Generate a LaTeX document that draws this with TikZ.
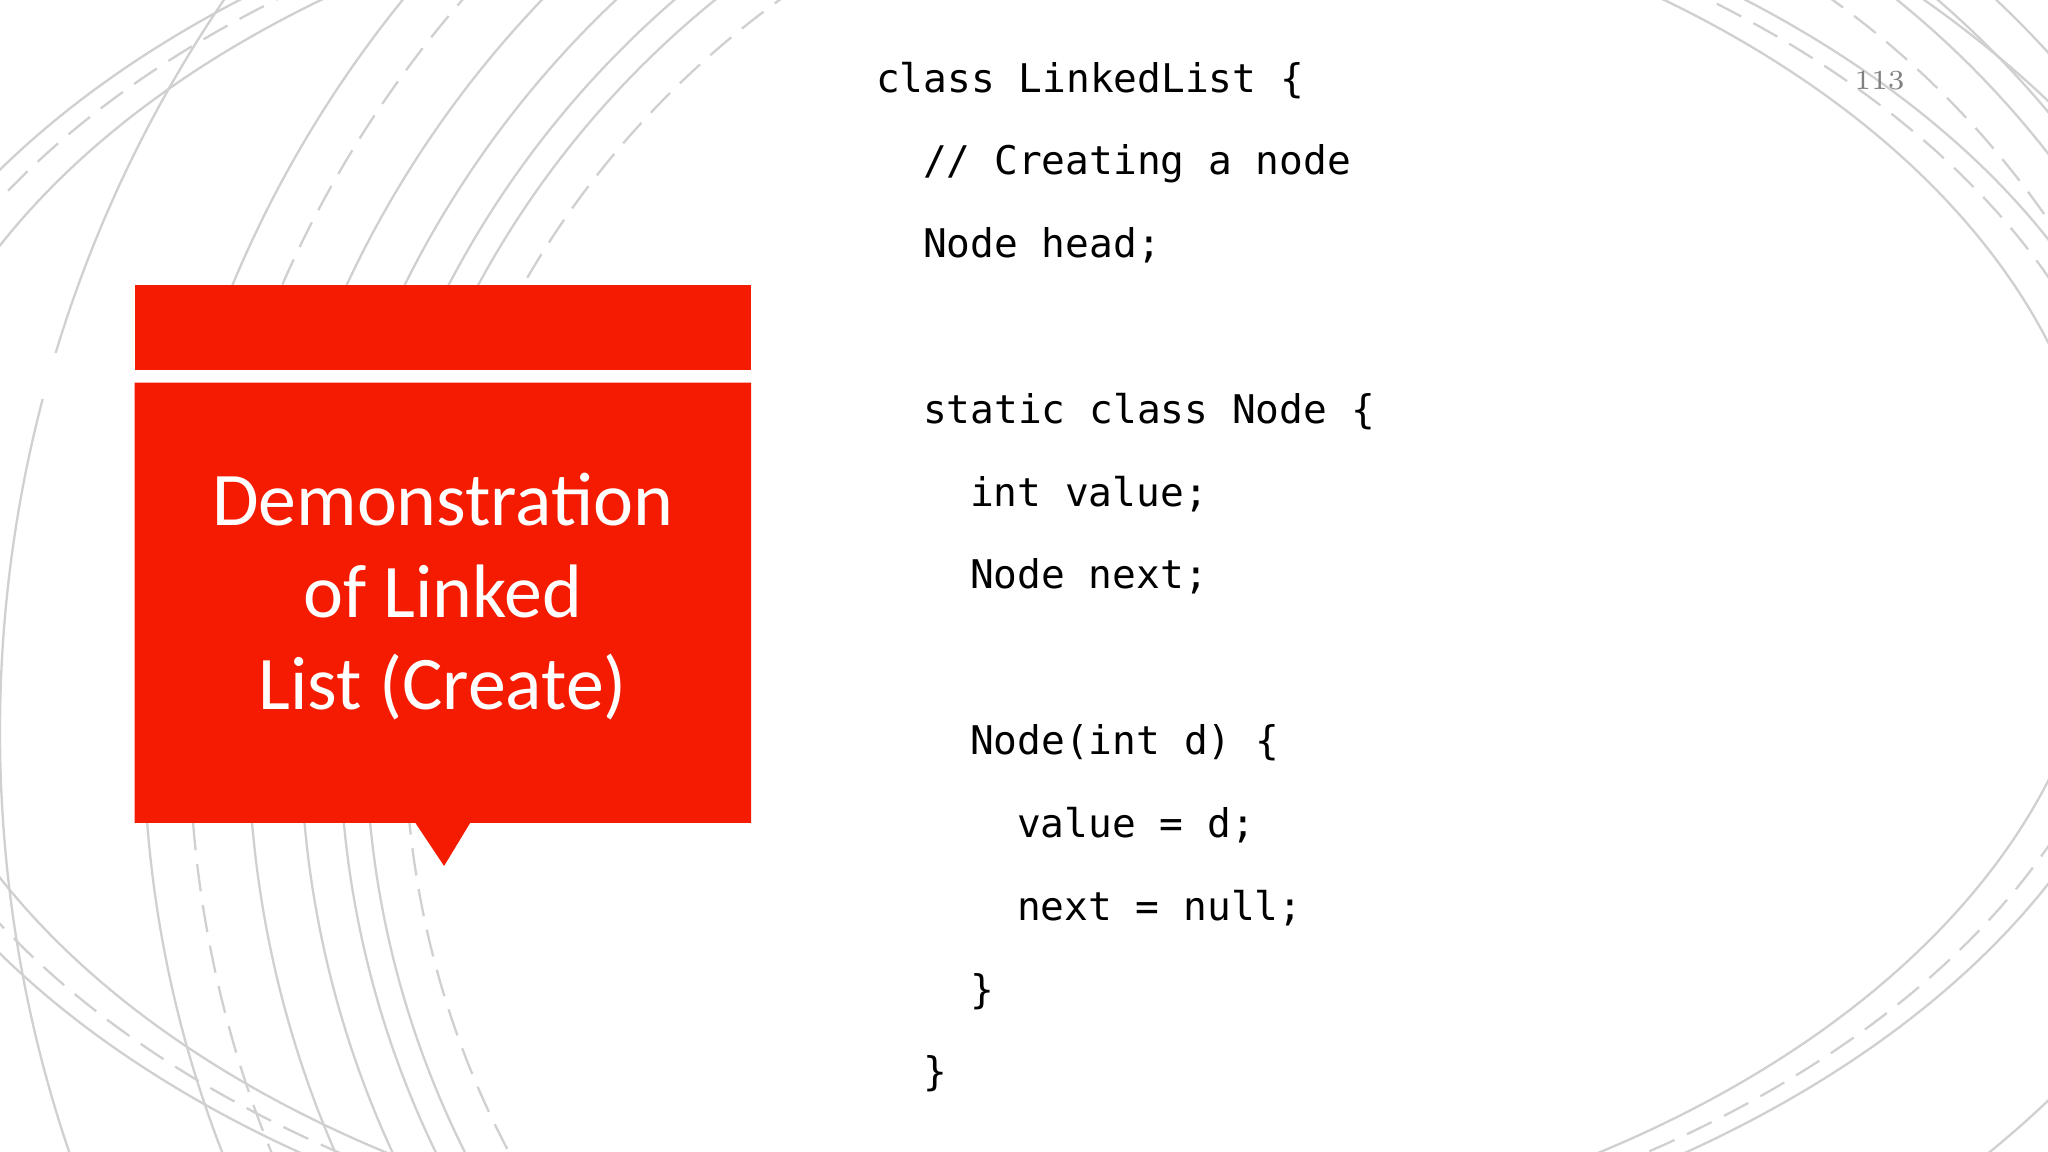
\documentclass[tikz,border=0pt]{standalone}
\usepackage{fontspec}
\setmonofont{DejaVu Sans Mono}
\newfontfamily\titlefont{Carlito}
\definecolor{slidered}{HTML}{F51B00}
\definecolor{arcgrey}{HTML}{D0D0D0}
\begin{document}
\begin{tikzpicture}[x=0.01cm,y=-0.01cm,
  arc/.style={draw=arcgrey,line width=0.5pt},
  arcd/.style={arc,dash pattern=on 6pt off 3pt},
  code/.style={anchor=west,font=\ttfamily\fontsize{8.6pt}{10pt}\selectfont,inner sep=0},
  titletext/.style={text=white,font=\titlefont\fontsize{16.5pt}{19pt}\selectfont,align=center}]
\useasboundingbox (0,0) rectangle (1568,882);
\begin{scope}
\clip (0,0) rectangle (1568,882);
\foreach \r in {1000,890,810,770,740,720} \draw[arc] (1000,560) circle (\r);
\foreach \r in {855,690} \draw[arcd] (1000,560) circle (\r);
\draw[arc] (760,430) ellipse (900 and 560);
\draw[arc] (760,430) ellipse (850 and 540);
\draw[arcd] (760,430) ellipse (880 and 550);
\draw[arc] (700,460) ellipse (1050 and 680);
\end{scope}
\node[fill=white,inner sep=0,minimum width=472,minimum height=10] at (339,288) {};
\fill[slidered] (103,218) rectangle (575,283);
\fill[slidered] (103,293) -- (575,293) -- (575,630) -- (360,630) -- (340,663) -- (318,630) -- (103,630) -- cycle;
\node[titletext] (title) at (339,457) {Demonstration\\[1pt]of Linked\\[1pt]List (Create)};
\node[text=gray,font=\fontsize{6pt}{7pt}\selectfont] (pg) at (1439,62) {113};
\node[code] (l1) at (670,62) {class LinkedList \{};
\node[code] (l2) at (706,125) {// Creating a node};
\node[code] (l3) at (706,188) {Node head;};
\node[code] (l4) at (706,315) {static class Node \{};
\node[code] (l5) at (742,378) {int value;};
\node[code] (l6) at (742,441) {Node next;};
\node[code] (l7) at (742,569) {Node(int d) \{};
\node[code] (l8) at (778,632) {value = d;};
\node[code] (l9) at (778,695) {next = null;};
\node[code] (l10) at (742,759) {\}};
\node[code] (l11) at (706,822) {\}};
\end{tikzpicture}
\end{document}
